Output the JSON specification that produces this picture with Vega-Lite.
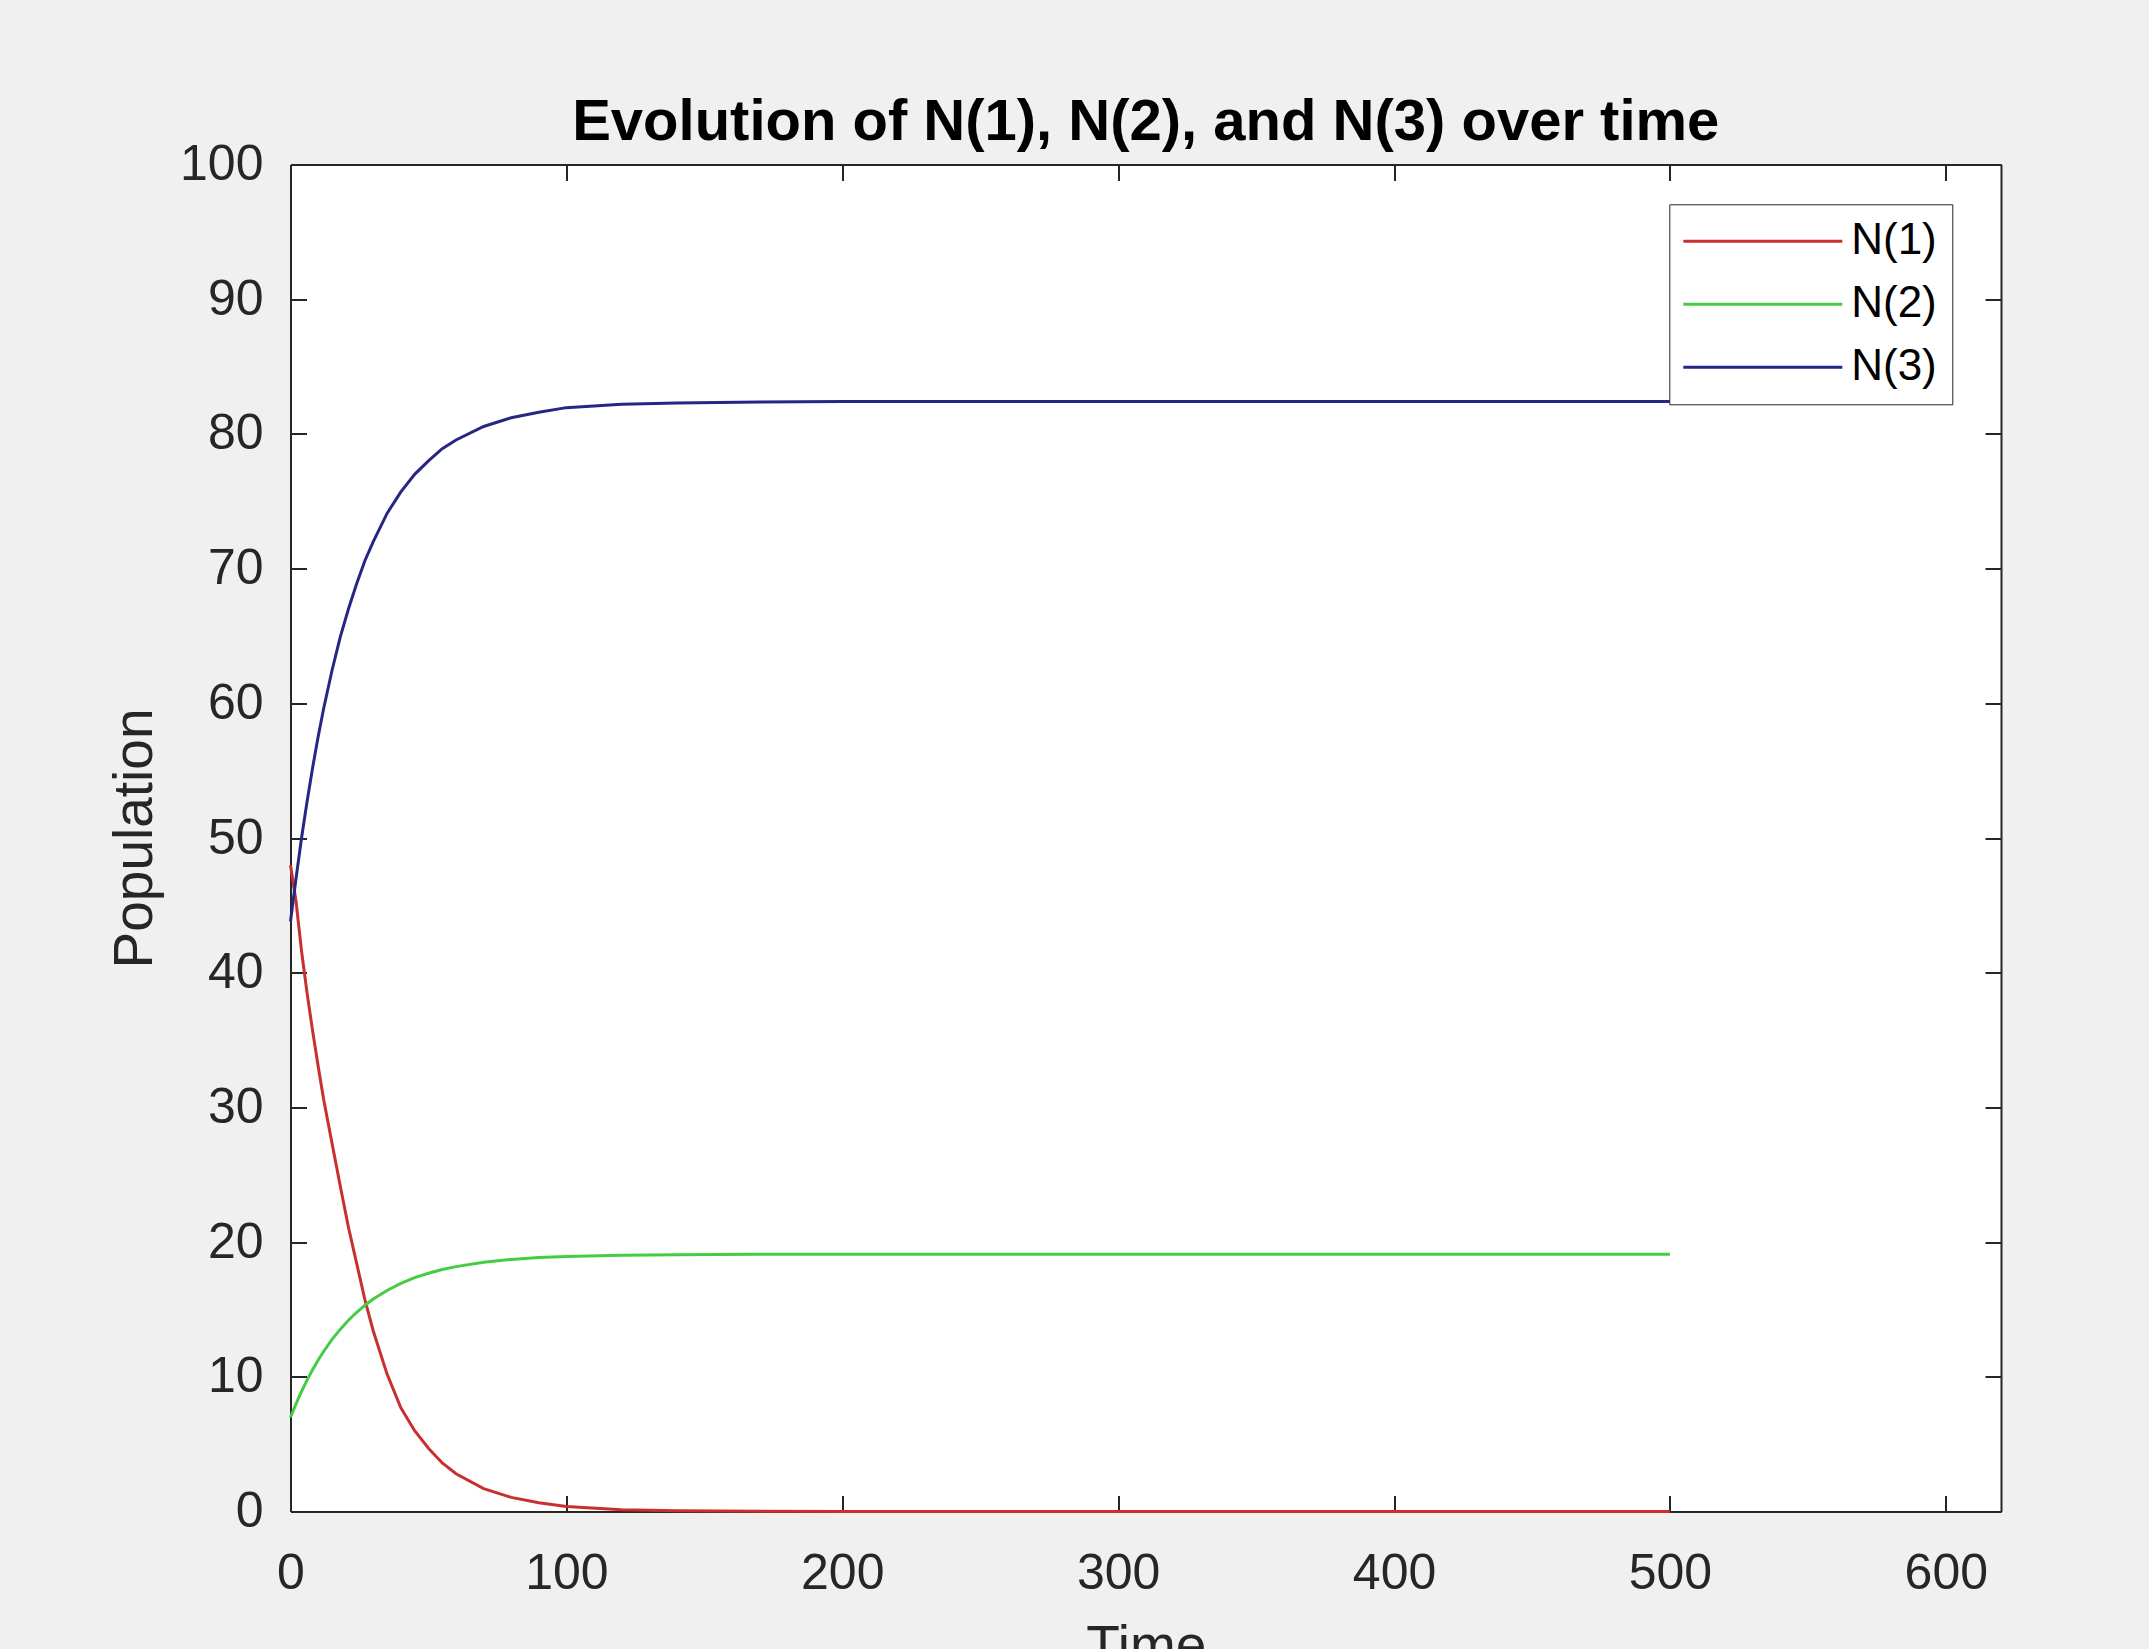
{
  "$schema": "https://vega.github.io/schema/vega-lite/v6.json",
  "width": 1710.5,
  "height": 1347,
  "autosize": {"type": "none"},
  "padding": {"left": 290.5, "top": 164.5, "right": 148, "bottom": 137.5},
  "background": "#f0f0f0",
  "title": {
    "text": "Evolution of N(1), N(2), and N(3) over time",
    "font": "Liberation Sans",
    "fontSize": 58,
    "fontWeight": "bold",
    "color": "#000000",
    "anchor": "middle",
    "frame": "group",
    "baseline": "alphabetic",
    "offset": -58
  },
  "config": {
    "view": {"stroke": null, "fill": "#ffffff"},
    "font": "Liberation Sans",
    "axis": {
      "domainColor": "#262626",
      "domainWidth": 2,
      "tickColor": "#262626",
      "tickWidth": 2,
      "tickSize": -16,
      "grid": false,
      "labelFont": "Liberation Sans",
      "labelFontSize": 50,
      "labelColor": "#262626",
      "titleFont": "Liberation Sans",
      "titleFontSize": 55,
      "titleFontWeight": "normal",
      "titleColor": "#262626",
      "labelFlush": false,
      "labelOverlap": false,
      "labelBound": false
    }
  },
  "data": {
    "values": [
      {"t": 0, "series": "N(1)", "value": 48.0},
      {"t": 2, "series": "N(1)", "value": 45.3},
      {"t": 4, "series": "N(1)", "value": 41.6},
      {"t": 6, "series": "N(1)", "value": 38.5},
      {"t": 8, "series": "N(1)", "value": 35.7},
      {"t": 10, "series": "N(1)", "value": 33.1},
      {"t": 12, "series": "N(1)", "value": 30.6},
      {"t": 15, "series": "N(1)", "value": 27.4},
      {"t": 18, "series": "N(1)", "value": 24.2},
      {"t": 21, "series": "N(1)", "value": 21.1},
      {"t": 24, "series": "N(1)", "value": 18.4},
      {"t": 27, "series": "N(1)", "value": 15.7},
      {"t": 30, "series": "N(1)", "value": 13.4},
      {"t": 35, "series": "N(1)", "value": 10.2},
      {"t": 40, "series": "N(1)", "value": 7.7},
      {"t": 45, "series": "N(1)", "value": 6.0},
      {"t": 50, "series": "N(1)", "value": 4.7},
      {"t": 55, "series": "N(1)", "value": 3.6},
      {"t": 60, "series": "N(1)", "value": 2.8},
      {"t": 70, "series": "N(1)", "value": 1.7},
      {"t": 80, "series": "N(1)", "value": 1.05},
      {"t": 90, "series": "N(1)", "value": 0.65},
      {"t": 100, "series": "N(1)", "value": 0.38},
      {"t": 120, "series": "N(1)", "value": 0.13},
      {"t": 140, "series": "N(1)", "value": 0.05},
      {"t": 170, "series": "N(1)", "value": 0.01},
      {"t": 200, "series": "N(1)", "value": 0},
      {"t": 250, "series": "N(1)", "value": 0},
      {"t": 300, "series": "N(1)", "value": 0},
      {"t": 350, "series": "N(1)", "value": 0},
      {"t": 400, "series": "N(1)", "value": 0},
      {"t": 450, "series": "N(1)", "value": 0},
      {"t": 500, "series": "N(1)", "value": 0},
      {"t": 0, "series": "N(2)", "value": 7.0},
      {"t": 2, "series": "N(2)", "value": 7.99},
      {"t": 4, "series": "N(2)", "value": 8.91},
      {"t": 6, "series": "N(2)", "value": 9.75},
      {"t": 8, "series": "N(2)", "value": 10.52},
      {"t": 10, "series": "N(2)", "value": 11.23},
      {"t": 12, "series": "N(2)", "value": 11.88},
      {"t": 15, "series": "N(2)", "value": 12.76},
      {"t": 18, "series": "N(2)", "value": 13.52},
      {"t": 21, "series": "N(2)", "value": 14.2},
      {"t": 24, "series": "N(2)", "value": 14.79},
      {"t": 27, "series": "N(2)", "value": 15.31},
      {"t": 30, "series": "N(2)", "value": 15.77},
      {"t": 35, "series": "N(2)", "value": 16.41},
      {"t": 40, "series": "N(2)", "value": 16.93},
      {"t": 45, "series": "N(2)", "value": 17.36},
      {"t": 50, "series": "N(2)", "value": 17.69},
      {"t": 55, "series": "N(2)", "value": 17.97},
      {"t": 60, "series": "N(2)", "value": 18.18},
      {"t": 70, "series": "N(2)", "value": 18.5},
      {"t": 80, "series": "N(2)", "value": 18.71},
      {"t": 90, "series": "N(2)", "value": 18.85},
      {"t": 100, "series": "N(2)", "value": 18.94},
      {"t": 120, "series": "N(2)", "value": 19.03},
      {"t": 140, "series": "N(2)", "value": 19.07},
      {"t": 170, "series": "N(2)", "value": 19.09},
      {"t": 200, "series": "N(2)", "value": 19.1},
      {"t": 250, "series": "N(2)", "value": 19.1},
      {"t": 300, "series": "N(2)", "value": 19.1},
      {"t": 350, "series": "N(2)", "value": 19.1},
      {"t": 400, "series": "N(2)", "value": 19.1},
      {"t": 450, "series": "N(2)", "value": 19.1},
      {"t": 500, "series": "N(2)", "value": 19.1},
      {"t": 0, "series": "N(3)", "value": 43.8},
      {"t": 2, "series": "N(3)", "value": 47.0},
      {"t": 4, "series": "N(3)", "value": 50.0},
      {"t": 6, "series": "N(3)", "value": 52.7},
      {"t": 8, "series": "N(3)", "value": 55.2},
      {"t": 10, "series": "N(3)", "value": 57.5},
      {"t": 12, "series": "N(3)", "value": 59.6},
      {"t": 15, "series": "N(3)", "value": 62.4},
      {"t": 18, "series": "N(3)", "value": 64.9},
      {"t": 21, "series": "N(3)", "value": 67.0},
      {"t": 24, "series": "N(3)", "value": 68.9},
      {"t": 27, "series": "N(3)", "value": 70.6},
      {"t": 30, "series": "N(3)", "value": 72.0},
      {"t": 35, "series": "N(3)", "value": 74.1},
      {"t": 40, "series": "N(3)", "value": 75.7},
      {"t": 45, "series": "N(3)", "value": 77.0},
      {"t": 50, "series": "N(3)", "value": 78.0},
      {"t": 55, "series": "N(3)", "value": 78.9},
      {"t": 60, "series": "N(3)", "value": 79.55},
      {"t": 70, "series": "N(3)", "value": 80.55},
      {"t": 80, "series": "N(3)", "value": 81.2},
      {"t": 90, "series": "N(3)", "value": 81.6},
      {"t": 100, "series": "N(3)", "value": 81.95},
      {"t": 120, "series": "N(3)", "value": 82.2},
      {"t": 140, "series": "N(3)", "value": 82.3},
      {"t": 170, "series": "N(3)", "value": 82.37},
      {"t": 200, "series": "N(3)", "value": 82.4},
      {"t": 250, "series": "N(3)", "value": 82.4},
      {"t": 300, "series": "N(3)", "value": 82.4},
      {"t": 350, "series": "N(3)", "value": 82.4},
      {"t": 400, "series": "N(3)", "value": 82.4},
      {"t": 450, "series": "N(3)", "value": 82.4},
      {"t": 500, "series": "N(3)", "value": 82.4}
    ]
  },
  "layer": [
    {
      "mark": {"type": "line", "strokeWidth": 3},
      "encoding": {
        "x": {
          "field": "t",
          "type": "quantitative",
          "scale": {"domain": [0, 620], "nice": false, "zero": false},
          "axis": {
            "orient": "bottom",
            "values": [0, 100, 200, 300, 400, 500, 600],
            "title": "Time",
            "labelPadding": 52.5,
            "titlePadding": 22
          }
        },
        "y": {
          "field": "value",
          "type": "quantitative",
          "scale": {"domain": [0, 100], "nice": false},
          "axis": {
            "orient": "left",
            "values": [0, 10, 20, 30, 40, 50, 60, 70, 80, 90, 100],
            "title": "Population",
            "labelPadding": 43.5,
            "titlePadding": 16
          }
        },
        "color": {
          "field": "series",
          "type": "nominal",
          "scale": {
            "domain": ["N(1)", "N(2)", "N(3)"],
            "range": ["#c8302f", "#45cc45", "#262684"]
          },
          "legend": {
            "orient": "none",
            "legendX": 1378.8,
            "legendY": 39.8,
            "title": null,
            "fillColor": "#ffffff",
            "strokeColor": "#262626",
            "padding": 15,
            "rowPadding": 19,
            "labelFont": "Liberation Sans",
            "labelFontSize": 44,
            "labelColor": "#000000",
            "labelLimit": 400,
            "symbolType": "M-1,0H7",
            "symbolSize": 1580,
            "symbolStrokeWidth": 3,
            "symbolOffset": -3.1,
            "labelOffset": 126
          }
        }
      }
    },
    {
      "mark": {"type": "line", "opacity": 0},
      "encoding": {
        "x": {
          "field": "t",
          "type": "quantitative",
          "axis": {
            "orient": "top",
            "values": [0, 100, 200, 300, 400, 500, 600],
            "labels": false,
            "title": null
          }
        },
        "y": {
          "field": "value",
          "type": "quantitative",
          "axis": {
            "orient": "right",
            "values": [0, 10, 20, 30, 40, 50, 60, 70, 80, 90, 100],
            "labels": false,
            "title": null
          }
        },
        "detail": {"field": "series", "type": "nominal"}
      }
    }
  ],
  "resolve": {"axis": {"x": "independent", "y": "independent"}}
}
